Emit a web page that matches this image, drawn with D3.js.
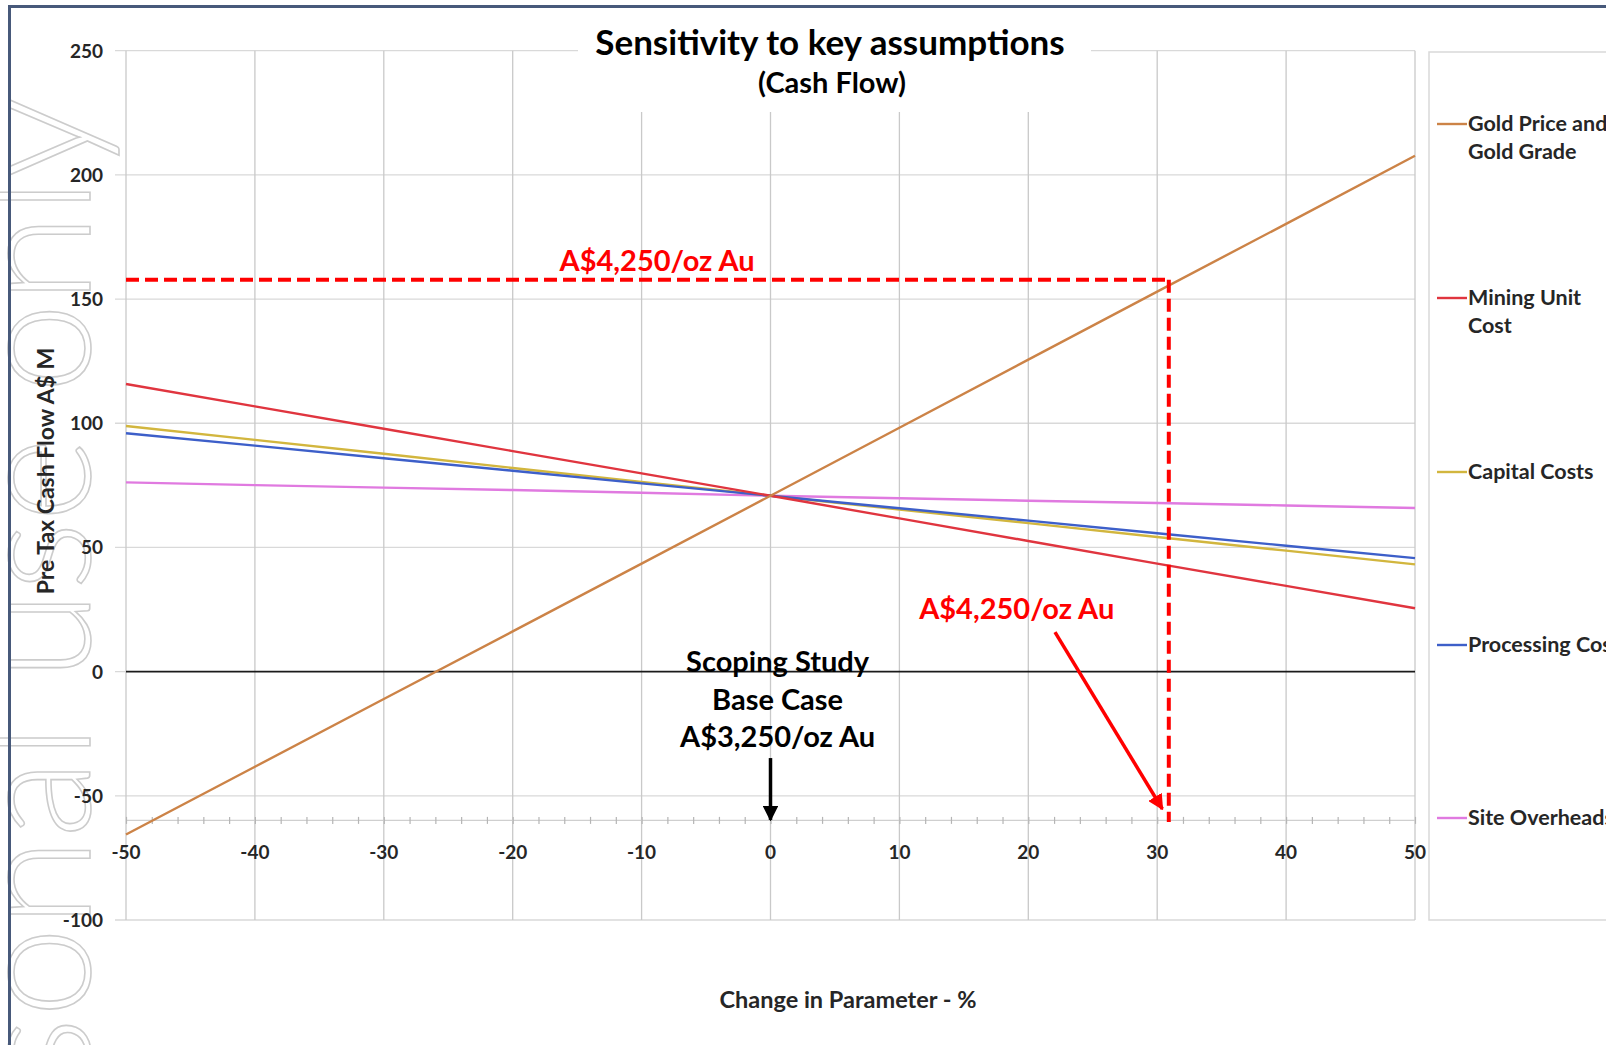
<!DOCTYPE html>
<html>
<head>
<meta charset="utf-8">
<script src="https://cdn.jsdelivr.net/npm/d3@7"></script>
<style>
  html, body { margin: 0; padding: 0; background: #ffffff; }
  svg { display: block; }
  text { font-family: Lato, "Open Sans", sans-serif; }
</style>
</head>
<body>
<svg id="chart" width="1606" height="1045"></svg>
<script>
// ---------- data ----------
const pctChange = [-50, -40, -30, -20, -10, 0, 10, 20, 30, 40, 50];
const seriesNames = ["Gold Price and Gold Grade", "Mining Unit Cost", "Capital Costs", "Processing Costs", "Site Overheads"];
const goldPriceGrade = [-65.6, -38.3, -11.0, 16.2, 43.5, 70.8, 98.2, 125.6, 153.0, 180.3, 207.7];
const miningUnitCost = [115.8, 106.8, 97.8, 88.8, 79.8, 70.8, 61.7, 52.6, 43.5, 34.5, 25.5];
const capitalCosts = [98.9, 93.3, 87.7, 82.0, 76.4, 70.8, 65.3, 59.8, 54.2, 48.7, 43.2];
const processingCosts = [96.0, 91.0, 85.9, 80.9, 75.8, 70.8, 65.8, 60.8, 55.7, 50.7, 45.7];
const siteOverheads = [76.2, 75.1, 74.1, 73.1, 72.0, 70.8, 69.8, 68.8, 67.9, 66.9, 65.9];
const xTicks = [-50, -40, -30, -20, -10, 0, 10, 20, 30, 40, 50];
const yTicks = [-100, -50, 0, 50, 100, 150, 200, 250];
const legendLabels = [["Gold Price and", "Gold Grade"], ["Mining Unit", "Cost"], ["Capital Costs"], ["Processing Costs"], ["Site Overheads"]];
// annotation anchors (data units)
const targetPct = 30.9, targetCashFlow = 157.8, axisCrossValue = -60.5;
const baseCaseLines = ["Scoping Study", "Base Case", "A$3,250/oz Au"];
const targetLabel = "A$4,250/oz Au";

// ---------- layout ----------
const svg = d3.select("#chart");
const colors = ["#cc8347", "#e0353f", "#d2b63e", "#3d5fc9", "#e07ae0"];
const x = d3.scaleLinear().domain([-50, 50]).range([126, 1415]);
const y = d3.scaleLinear().domain([-100, 250]).range([920, 50.7]);
const ink = "#262626";

// watermark (behind everything)
svg.append("text").attr("transform", "translate(90,97) rotate(-90)").attr("text-anchor", "end")
  .attr("font-size", 162).attr("font-weight", 300).attr("letter-spacing", 0)
  .attr("fill", "none").attr("stroke", "#cccccc").attr("stroke-width", 1.6)
  .text("For personal use only");

// horizontal gridlines
svg.append("g").selectAll("line").data(yTicks.filter(d => d !== 0)).join("line")
  .attr("x1", 115).attr("x2", x(50)).attr("y1", d => y(d)).attr("y2", d => y(d))
  .attr("stroke", "#d9d9d9").attr("stroke-width", 1.3);
// vertical gridlines
svg.append("g").selectAll("line").data(xTicks).join("line")
  .attr("x1", d => x(d)).attr("x2", d => x(d)).attr("y1", y(250)).attr("y2", y(-100))
  .attr("stroke", "#c9c9c9").attr("stroke-width", 1.3);
// zero line
svg.append("line").attr("x1", 115).attr("x2", x(-50)).attr("y1", y(0)).attr("y2", y(0))
  .attr("stroke", "#d9d9d9").attr("stroke-width", 1.3);
svg.append("line").attr("x1", x(-50)).attr("x2", x(50)).attr("y1", y(0)).attr("y2", y(0))
  .attr("stroke", "#1a1a1a").attr("stroke-width", 1.6);

// x axis line with minor ticks
const xAxis = d3.axisBottom(x).tickValues(d3.range(-50, 51, 2)).tickSize(4).tickSizeOuter(0).tickFormat("");
const gx = svg.append("g").attr("transform", `translate(0,${y(axisCrossValue) - 2})`).call(xAxis);
gx.select(".domain").attr("stroke", "#cfcfcf").attr("stroke-width", 1.2);
gx.selectAll(".tick line").attr("stroke", "#b5b5b5").attr("stroke-width", 1.2).attr("y1", -3).attr("y2", 4);

// tick labels
svg.append("g").selectAll("text").data(xTicks).join("text")
  .attr("x", d => x(d)).attr("y", 859).attr("text-anchor", "middle")
  .attr("font-size", 19).attr("font-weight", 700).attr("fill", ink).text(d => d);
svg.append("g").selectAll("text").data(yTicks).join("text")
  .attr("x", 103).attr("y", d => y(d) + 7).attr("text-anchor", "end")
  .attr("font-size", 19).attr("font-weight", 700).attr("fill", ink).text(d => d);

// axis titles
svg.append("text").attr("x", 848).attr("y", 1008).attr("text-anchor", "middle")
  .attr("font-size", 23.5).attr("font-weight", 700).attr("fill", ink).text("Change in Parameter - %");
svg.append("text").attr("transform", "translate(54,471) rotate(-90)").attr("text-anchor", "middle")
  .attr("font-size", 23).attr("font-weight", 700).attr("fill", ink).text("Pre Tax Cash Flow A$ M");

// title box
svg.append("rect").attr("x", 578).attr("y", 0).attr("width", 513).attr("height", 112).attr("fill", "#ffffff");
svg.append("text").attr("x", 830).attr("y", 55).attr("text-anchor", "middle")
  .attr("font-size", 35).attr("font-weight", 700).attr("fill", "#000").text("Sensitivity to key assumptions");
svg.append("text").attr("x", 832).attr("y", 93).attr("text-anchor", "middle")
  .attr("font-size", 29).attr("font-weight", 700).attr("fill", "#000").text("(Cash Flow)");

// series lines
const allSeries = [goldPriceGrade, miningUnitCost, capitalCosts, processingCosts, siteOverheads];
const line = d3.line().x((d, i) => x(pctChange[i])).y(d => y(d));
const drawOrder = [4, 2, 3, 1, 0];
drawOrder.forEach(k => {
  svg.append("path").datum(allSeries[k]).attr("d", line)
    .attr("fill", "none").attr("stroke", colors[k]).attr("stroke-width", 2.4);
});

// legend
svg.append("rect").attr("x", 1429).attr("y", 52).attr("width", 200).attr("height", 868)
  .attr("fill", "#ffffff").attr("stroke", "#d9d9d9").attr("stroke-width", 1.5);
const legendY = [124, 298, 472, 645, 818];
legendLabels.forEach((lines, k) => {
  const g = svg.append("g");
  g.append("line").attr("x1", 1437).attr("x2", 1467).attr("y1", legendY[k]).attr("y2", legendY[k])
    .attr("stroke", colors[k]).attr("stroke-width", 2.4);
  lines.forEach((t, j) => {
    g.append("text").attr("x", 1468).attr("y", legendY[k] + 7 + j * 28)
      .attr("font-size", 21.5).attr("font-weight", 700).attr("fill", ink).text(t);
  });
});

// red dashed target lines
const red = "#ff0000";
svg.append("line").attr("x1", x(-50)).attr("x2", x(targetPct)).attr("y1", y(targetCashFlow)).attr("y2", y(targetCashFlow))
  .attr("stroke", red).attr("stroke-width", 4).attr("stroke-dasharray", "13,6");
svg.append("line").attr("x1", x(targetPct)).attr("x2", x(targetPct)).attr("y1", y(targetCashFlow)).attr("y2", y(axisCrossValue))
  .attr("stroke", red).attr("stroke-width", 4).attr("stroke-dasharray", "13,6");

// red labels
svg.append("text").attr("x", x(-8.8)).attr("y", y(165.3) + 10).attr("text-anchor", "middle")
  .attr("font-size", 29).attr("font-weight", 700).attr("fill", red).text(targetLabel);
svg.append("text").attr("x", x(19.1)).attr("y", y(25.2) + 10).attr("text-anchor", "middle")
  .attr("font-size", 29).attr("font-weight", 700).attr("fill", red).text(targetLabel);

// arrows
const defs = svg.append("defs");
function marker(id, color) {
  defs.append("marker").attr("id", id).attr("viewBox", "0 0 10 10").attr("refX", 9).attr("refY", 5)
    .attr("markerWidth", 4.5).attr("markerHeight", 4.5).attr("markerUnits", "strokeWidth").attr("orient", "auto")
    .append("path").attr("d", "M0,0 L10,5 L0,10 Z").attr("fill", color);
}
marker("arrRed", red);
marker("arrBlack", "#000");
svg.append("line").attr("x1", x(22.07)).attr("y1", y(15.9)).attr("x2", x(30.4)).attr("y2", y(-55.3))
  .attr("stroke", red).attr("stroke-width", 3.5).attr("marker-end", "url(#arrRed)");
svg.append("line").attr("x1", x(0)).attr("y1", y(-34.8)).attr("x2", x(0)).attr("y2", y(-59.7))
  .attr("stroke", "#000").attr("stroke-width", 3.5).attr("marker-end", "url(#arrBlack)");

// base-case label
baseCaseLines.forEach((t, i) => {
  svg.append("text").attr("x", x(0.55)).attr("y", 672 + i * 37.5).attr("text-anchor", "middle")
    .attr("font-size", 29).attr("font-weight", 700).attr("fill", "#000").text(t);
});

// outer frame
svg.append("rect").attr("x", 9.5).attr("y", 6.5).attr("width", 1650).attr("height", 1100)
  .attr("fill", "none").attr("stroke", "#47597a").attr("stroke-width", 3);
</script>
</body>
</html>
